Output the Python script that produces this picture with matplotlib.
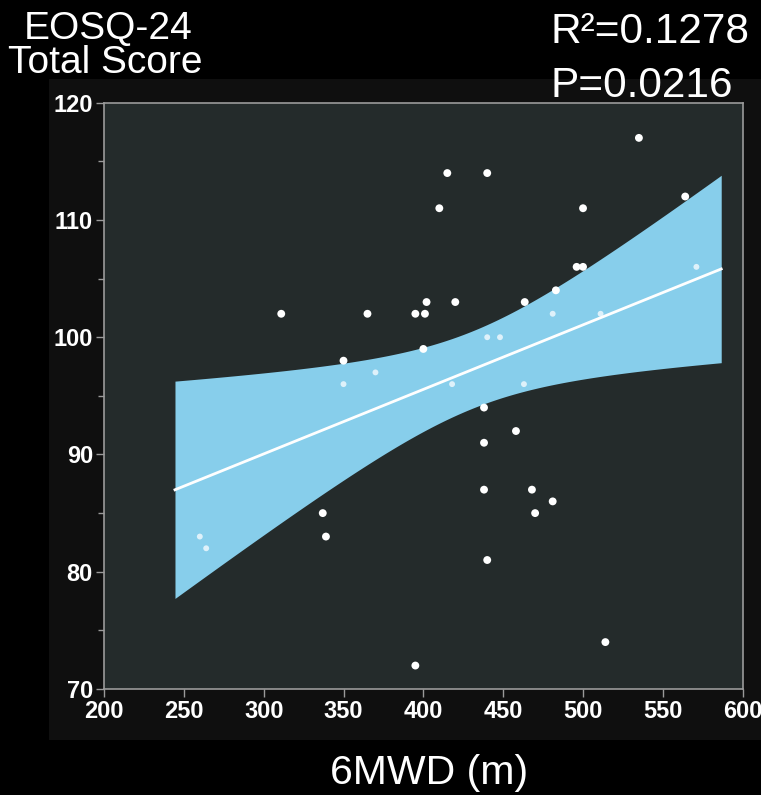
import numpy as np
import matplotlib
matplotlib.use("Agg")
import matplotlib.pyplot as plt
from matplotlib.patches import Rectangle
from matplotlib.ticker import MultipleLocator

# 6MWD (m) and EOSQ-24 total score per patient
walk_m = [260, 264, 311, 337, 339, 350, 350, 365, 370, 395, 401, 400, 402, 420,
          415, 440, 410, 418, 438, 438, 438, 440, 395, 440, 448, 458, 463, 463.5,
          468, 470, 481, 481, 483, 496, 500, 500, 511, 514, 535, 564, 571]
eosq_score = [83, 82, 102, 85, 83, 98, 96, 102, 97, 102, 102, 99, 103, 103,
              114, 114, 111, 96, 94, 91, 87, 81, 72, 100, 100, 92, 96, 103,
              87, 85, 86, 102, 104, 106, 106, 111, 102, 74, 117, 112, 106]

stats_text = ["R²=0.1278", "P=0.0216"]
y_title = ["EOSQ-24", "Total Score"]
x_title = "6MWD (m)"
x_ticks = [200, 250, 300, 350, 400, 450, 500, 550, 600]
y_ticks = [70, 80, 90, 100, 110, 120]

plt.rcParams["font.family"] = ["Liberation Sans", "DejaVu Sans"]

x = np.asarray(walk_m, float)
y = np.asarray(eosq_score, float)
n = len(x)

# ordinary least squares fit with a 95% confidence band for the mean
slope, intercept = np.polyfit(x, y, 1)
resid = y - (intercept + slope * x)
s = np.sqrt(np.sum(resid ** 2) / (n - 2))
xm = x.mean()
sxx = np.sum((x - xm) ** 2)
t_crit = 2.0227  # t(0.975, df=39)
pad = 0.05 * (x.max() - x.min())
xf = np.linspace(x.min() - pad, x.max() + pad, 300)
yf = intercept + slope * xf
half = t_crit * s * np.sqrt(1.0 / n + (xf - xm) ** 2 / sxx)
lo, hi = yf - half, yf + half

W, H = 761, 795
fig = plt.figure(figsize=(W / 100, H / 100), dpi=100, facecolor="black")

# dark panel behind the plot area
fig.patches.append(Rectangle((49 / W, 1 - 740 / H), (W - 49) / W, (740 - 79) / H,
                             transform=fig.transFigure, facecolor="#0f0f0f",
                             edgecolor="none", zorder=-1))

ax = fig.add_axes([104 / W, 1 - 689 / H, (742.7 - 104) / W, (689 - 102.7) / H])
ax.set_zorder(1)
ax.set_facecolor("#242b2b")

ax.fill_between(xf, lo, hi, color="#87ceeb", lw=0, zorder=2)
ax.plot(xf, yf, color="white", lw=2, zorder=4)

lo_at = np.interp(x, xf, lo)
hi_at = np.interp(x, xf, hi)
inside = (y > lo_at + 0.5) & (y < hi_at - 0.5)
ax.scatter(x[~inside], y[~inside], s=32, color="white", edgecolors="none", zorder=5)
ax.scatter(x[inside], y[inside], s=18, color="#eef8fd", edgecolors="none",
           alpha=0.85, zorder=3)

ax.set_xlim(200, 600)
ax.set_ylim(70, 120)
ax.set_xticks(x_ticks)
ax.set_yticks(y_ticks)
ax.yaxis.set_minor_locator(MultipleLocator(5))

for sp in ax.spines.values():
    sp.set_color("#9a9a9a")
    sp.set_linewidth(1.2)

ax.tick_params(axis="both", which="both", direction="out", color="#9a9a9a",
               width=1, labelcolor="white")
ax.tick_params(axis="both", which="major", length=6, labelsize=17, pad=2)
ax.tick_params(axis="y", which="minor", length=4)
for lab in ax.get_xticklabels() + ax.get_yticklabels():
    lab.set_fontweight("bold")

fig.text(108 / W, 1 - 29 / H, y_title[0], color="white", fontsize=28,
         ha="center", va="center")
fig.text(105 / W, 1 - 63 / H, y_title[1], color="white", fontsize=28,
         ha="center", va="center")
fig.text(551 / W, 1 - 32 / H, stats_text[0], color="white", fontsize=30.5,
         ha="left", va="center")
fig.text(551 / W, 1 - 86 / H, stats_text[1], color="white", fontsize=30.5,
         ha="left", va="center")
fig.text(429 / W, 1 - 773 / H, x_title, color="white", fontsize=29.5,
         ha="center", va="center")

fig.savefig("out.png", dpi=100, facecolor="black")
